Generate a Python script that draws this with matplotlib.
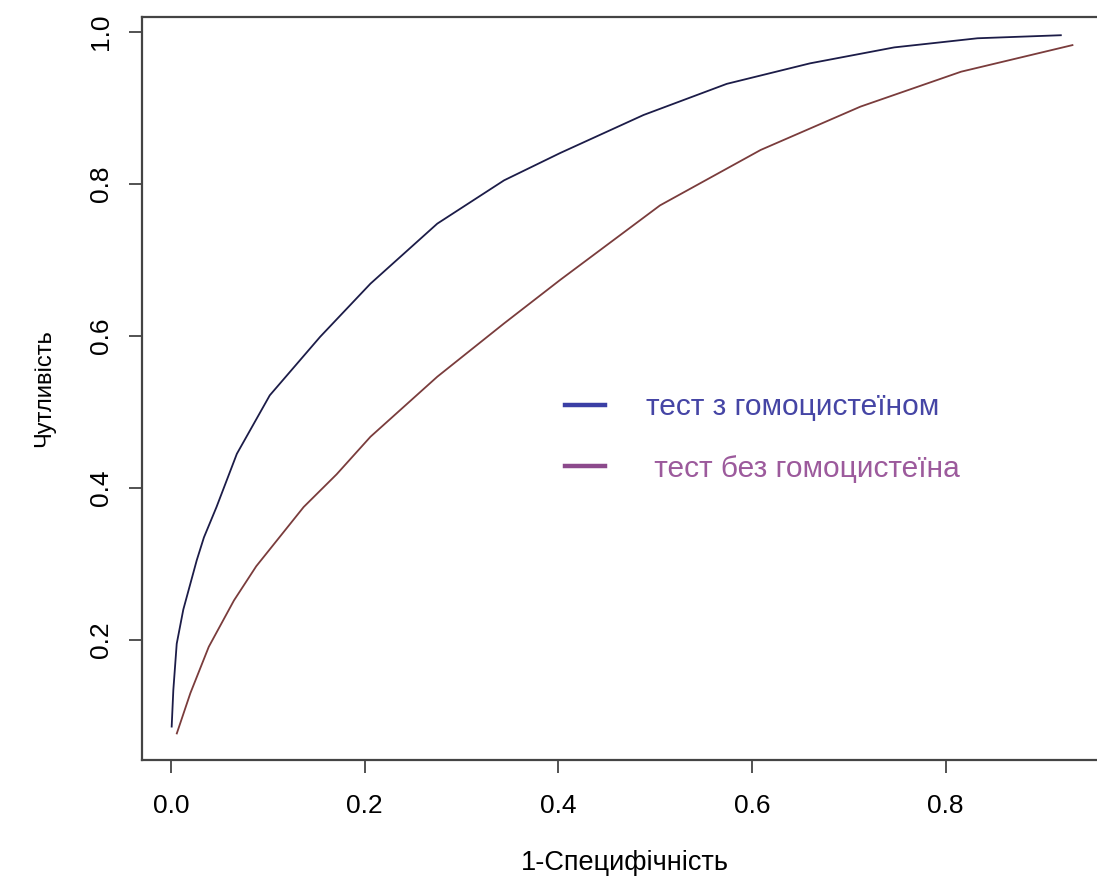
import matplotlib.pyplot as plt
from matplotlib.lines import Line2D

plt.rcParams['font.family'] = ['Liberation Sans', 'DejaVu Sans']

# ROC curve points
fpr_with = [0.0007, 0.0024, 0.0059, 0.0127, 0.0266, 0.034, 0.047, 0.068, 0.102,
            0.154, 0.206, 0.275, 0.344, 0.402, 0.488, 0.574, 0.660, 0.747,
            0.833, 0.919]
tpr_with = [0.086, 0.134, 0.195, 0.240, 0.305, 0.335, 0.375, 0.445, 0.522,
            0.599, 0.669, 0.748, 0.805, 0.841, 0.891, 0.932, 0.959, 0.980,
            0.992, 0.996]

fpr_without = [0.006, 0.020, 0.039, 0.065, 0.088, 0.137, 0.171, 0.206, 0.275,
               0.344, 0.402, 0.505, 0.609, 0.712, 0.816, 0.931]
tpr_without = [0.077, 0.130, 0.191, 0.252, 0.297, 0.375, 0.418, 0.4675, 0.5465,
               0.6167, 0.674, 0.772, 0.845, 0.902, 0.948, 0.983]

xticks = [0.0, 0.2, 0.4, 0.6, 0.8]
yticks = [0.2, 0.4, 0.6, 0.8, 1.0]
labels = ['тест з гомоцистеїном', ' тест без гомоцистеїна']

fig = plt.figure(figsize=(10.97, 8.76), dpi=100)
# right edge of the box is cut off in the original
ax = fig.add_axes([0.1294, 0.1324, 0.88, 0.8482])

ax.plot(fpr_with, tpr_with, color='#1c1c48', lw=1.3)
ax.plot(fpr_without, tpr_without, color='#7a3c3c', lw=1.3)

ax.set_xlim(-0.030, 0.967)
ax.set_ylim(0.042, 1.02)
ax.set_xticks(xticks)
ax.set_yticks(yticks)
ax.set_xticklabels([f'{t:.1f}' for t in xticks])
ax.set_yticklabels([f'{t:.1f}' for t in yticks], rotation=90, va='center')
ax.tick_params(direction='out', length=9.5, width=1.3, color='#444444',
               labelsize=19)
ax.tick_params(axis='x', pad=15)
ax.tick_params(axis='y', pad=11)
for s in ax.spines.values():
    s.set_color('#444444')
    s.set_linewidth(1.6)

ax.set_xlabel('1-Специфічність', fontsize=19.5, labelpad=23)
ax.set_ylabel('Чутливість', fontsize=17, labelpad=25)

handles = [Line2D([], [], color='#3b3fa5', lw=3.2),
           Line2D([], [], color='#8c4a8c', lw=3.2)]
ax.legend(handles, labels, loc='upper left', bbox_to_anchor=(0.410, 0.530),
          frameon=False, fontsize=21.5, handlelength=1.34, handletextpad=1.4,
          labelspacing=1.12, labelcolor=['#4545a5', '#9c5a9c'])

fig.savefig('out.png', dpi=100)
